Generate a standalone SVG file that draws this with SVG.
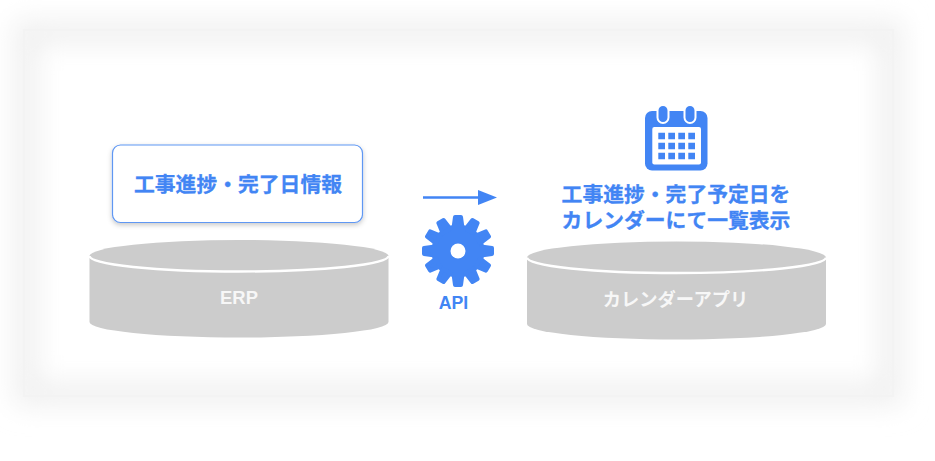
<svg xmlns="http://www.w3.org/2000/svg" width="935" height="461" viewBox="0 0 935 461">
<style>
.t{font-family:"Noto Sans CJK JP","Liberation Sans",sans-serif;font-weight:700;text-anchor:middle}
.b{fill:#4285f4}
.h{stroke:#4285f4;stroke-width:.3}
.w{fill:#f7f7f7}
.cyl{fill:#cccccc}
.rim{fill:none;stroke:#ffffff;stroke-width:2.4}
.l{font-family:"Liberation Sans",sans-serif;font-weight:700;text-anchor:middle}
</style>
<defs>
<filter id="frameBlur" x="-20%" y="-30%" width="140%" height="160%"><feGaussianBlur stdDeviation="13"/></filter>
<filter id="boxShadow" x="-10%" y="-20%" width="120%" height="140%"><feDropShadow dx="0" dy="2" stdDeviation="2.5" flood-color="#000" flood-opacity="0.22"/></filter>
<marker id="arrow" markerUnits="userSpaceOnUse" markerWidth="20" markerHeight="16" refX="0" refY="7.5" orient="auto"><path d="M0 0L19 7.500L0 15Z" fill="#4285f4"/></marker>
<path id="tooth" fill="#4285f4" stroke="#4285f4" stroke-width="4" stroke-linejoin="round" d="M453.500 228L455 217H461L462.500 228ZM453.500 274L455 285H461L462.500 274Z"/>
</defs>
<rect width="935" height="461" fill="#ffffff"/>
<g id="frame">
<rect x="26" y="32" width="865" height="362" fill="none" stroke="#f0f0f0" stroke-width="24" filter="url(#frameBlur)"/>
<rect x="24" y="30" width="869" height="366" fill="none" stroke="#f3f3f3" stroke-width="2"/>
</g>
<g id="connectors">
<line x1="423" y1="197.500" x2="478" y2="197.500" stroke="#4285f4" stroke-width="2.700" marker-end="url(#arrow)"/>
</g>
<g id="node-info">
<rect x="112.500" y="145" width="250" height="77.500" rx="8" fill="#ffffff" stroke="#5f97f3" stroke-width="1.200" filter="url(#boxShadow)"/>
<text class="t b h" x="238" y="192" font-size="20.800">工事進捗・完了日情報</text>
</g>
<g id="node-erp">
<path class="cyl" d="M89.500 256V322A149.500 15.500 0 0 0 388.500 322V256Z"/>
<ellipse class="cyl" cx="239" cy="256" rx="149.500" ry="16"/>
<path class="rim" d="M89.500 256A149.500 15.500 0 0 0 388.500 256"/>
<text class="l w" x="239" y="304" font-size="18.400">ERP</text>
</g>
<g id="node-api">
<circle cx="458" cy="251" r="26.500" fill="#4285f4"/>
<use href="#tooth"/>
<use href="#tooth" transform="rotate(30 458 251)"/>
<use href="#tooth" transform="rotate(60 458 251)"/>
<use href="#tooth" transform="rotate(90 458 251)"/>
<use href="#tooth" transform="rotate(120 458 251)"/>
<use href="#tooth" transform="rotate(150 458 251)"/>
<circle cx="458" cy="251" r="7.500" fill="#ffffff"/>
<text class="l b" x="453.500" y="309" font-size="17.700">API</text>
</g>
<g id="node-calendar">
<rect x="645" y="111" width="62.500" height="59.500" rx="7" fill="#4285f4"/>
<rect x="652.300" y="127" width="48.700" height="37.500" rx="2" fill="#ffffff"/>
<g fill="#4285f4" stroke="#ffffff" stroke-width="2">
<rect x="657.500" y="105" width="11" height="18" rx="5.500"/>
<rect x="684.500" y="105" width="11" height="18" rx="5.500"/>
</g>
<path fill="#4285f4" d="M658.300 132.700h6.700v6.600h-6.700zM668.300 132.700h6.700v6.600h-6.700zM678.300 132.700h6.700v6.600h-6.700zM688.300 132.700h6.700v6.600h-6.700zM658.300 142.700h6.700v6.600h-6.700zM668.300 142.700h6.700v6.600h-6.700zM678.300 142.700h6.700v6.600h-6.700zM688.300 142.700h6.700v6.600h-6.700zM658.300 152.700h6.700v6.600h-6.700zM668.300 152.700h6.700v6.600h-6.700zM678.300 152.700h6.700v6.600h-6.700zM688.300 152.700h6.700v6.600h-6.700z"/>
<text class="t b h" x="676" y="201.500" font-size="20.800">工事進捗・完了予定日を</text>
<text class="t b h" x="676" y="228" font-size="20.800">カレンダーにて一覧表示</text>
</g>
<g id="node-app">
<path class="cyl" d="M527 257.500V324A149.500 15.500 0 0 0 826 324V257.500Z"/>
<ellipse class="cyl" cx="676.500" cy="257.500" rx="149.500" ry="16"/>
<path class="rim" d="M527 257.500A149.500 15.500 0 0 0 826 257.500"/>
<text class="t w" x="675.500" y="305.500" font-size="18.300">カレンダーアプリ</text>
</g>
</svg>
